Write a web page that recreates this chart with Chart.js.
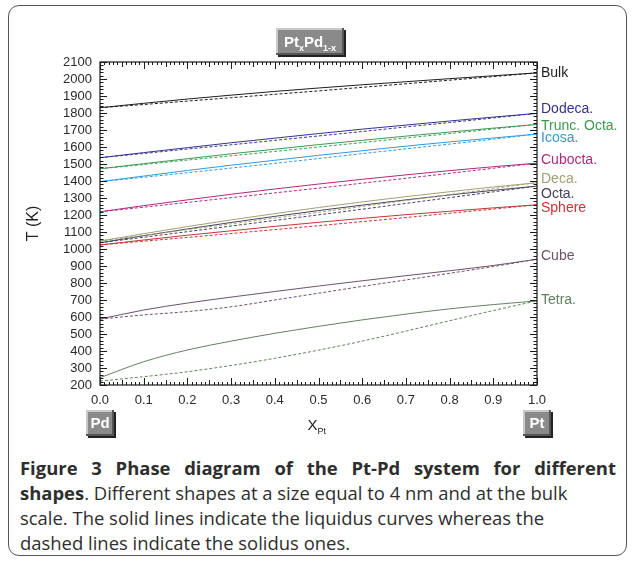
<!DOCTYPE html>
<html><head><meta charset="utf-8">
<script src="https://cdn.jsdelivr.net/npm/chart.js@4.4.1/dist/chart.umd.min.js"></script>
<style>
html,body{margin:0;padding:0;background:#fff;}
body{width:635px;height:564px;position:relative;overflow:hidden;font-family:"Liberation Sans",Arial,sans-serif;}
#frame{position:absolute;left:8px;top:5px;width:619px;height:551px;border:1.5px solid #555;border-radius:11px;box-sizing:border-box;}
#wrap{position:absolute;left:0;top:0;width:635px;height:450px;}
#cap{position:absolute;left:20px;top:455px;width:596px;font-family:"Open Sans",sans-serif;font-size:16px;line-height:25px;color:#2e2e2e;}
#cap div{white-space:nowrap;}
#cap b{font-weight:700;}
</style>
</head><body>
<div id="frame"></div>
<div id="wrap"><canvas id="c" width="635" height="450"></canvas></div>
<div id="cap">
<div id="l1d"><b id="l1b">Figure 3 Phase diagram of the Pt-Pd system for different</b></div>
<div><span id="l2"><b>shapes</b>. Different shapes at a size equal to 4 nm and at the bulk</span></div>
<div>scale. The solid lines indicate the liquidus curves whereas the</div>
<div>dashed lines indicate the solidus ones.</div>
</div>
<script>
// ---- data ----
const xValues = [0, 0.1, 0.2, 0.3, 0.4, 0.5, 0.6, 0.7, 0.8, 0.9, 1.0];

const bulkLiquidus    = [1831, 1857, 1882, 1905, 1927, 1947, 1966, 1984, 2002, 2019, 2036];
const bulkSolidus     = [1831, 1850, 1870, 1890, 1910, 1930, 1951, 1972, 1993, 2014, 2036];
const dodecaLiquidus  = [1537, 1567, 1596, 1625, 1652, 1679, 1705, 1729, 1753, 1776, 1798];
const dodecaSolidus   = [1537, 1562, 1588, 1613, 1639, 1665, 1691, 1718, 1744, 1771, 1798];
const truncLiquidus   = [1472, 1502, 1531, 1560, 1587, 1614, 1639, 1664, 1688, 1711, 1733];
const truncSolidus    = [1472, 1497, 1523, 1548, 1574, 1600, 1626, 1653, 1679, 1706, 1733];
const icosaLiquidus   = [1396, 1429, 1462, 1493, 1522, 1551, 1578, 1605, 1630, 1653, 1676];
const icosaSolidus    = [1396, 1422, 1449, 1476, 1504, 1532, 1561, 1589, 1617, 1646, 1676];
const cuboctaLiquidus = [1219, 1255, 1289, 1322, 1353, 1382, 1410, 1436, 1461, 1484, 1505];
const cuboctaSolidus  = [1219, 1246, 1274, 1302, 1330, 1358, 1387, 1416, 1445, 1475, 1505];
const decaLiquidus    = [1047, 1090, 1132, 1171, 1208, 1244, 1277, 1308, 1337, 1365, 1390];
const decaSolidus     = [1047, 1080, 1114, 1148, 1182, 1216, 1250, 1285, 1320, 1355, 1390];
const octaLiquidus    = [1037, 1078, 1118, 1156, 1192, 1226, 1258, 1289, 1318, 1345, 1370];
const octaSolidus     = [1037, 1069, 1102, 1135, 1168, 1201, 1234, 1268, 1302, 1336, 1370];
const sphereLiquidus  = [1024, 1053, 1081, 1107, 1133, 1157, 1180, 1202, 1222, 1242, 1260];
const sphereSolidus   = [1024, 1046, 1068, 1091, 1114, 1137, 1161, 1185, 1210, 1235, 1260];
const cubeLiquidus    = [588, 641, 682, 717, 750, 782, 813, 843, 872, 903, 940];
const cubeSolidus     = [588, 612, 632, 660, 700, 740, 780, 818, 857, 897, 940];
const tetraLiquidus   = [243, 337, 406, 458, 504, 545, 583, 617, 648, 673, 695];
const tetraSolidus    = [223, 249, 278, 315, 357, 405, 458, 517, 578, 638, 695];

const shapeNames  = ['Bulk', 'Dodeca.', 'Trunc. Octa.', 'Icosa.', 'Cubocta.', 'Deca.', 'Octa.', 'Sphere', 'Cube', 'Tetra.'];
const shapeColors = ['#1e1e1e', '#34348c', '#3c9a50', '#3598d8', '#b3287f', '#a3a072', '#43435f', '#c73434', '#6f5069', '#62805f'];
const labelAt     = [2036, 1822, 1725, 1651, 1524, 1412, 1322, 1243, 957, 700]; // K, where each name sits

const yMin = 200, yMax = 2100, yStep = 100;
const xMin = 0, xMax = 1, xStep = 0.1;

const liquidus = [bulkLiquidus, dodecaLiquidus, truncLiquidus, icosaLiquidus, cuboctaLiquidus, decaLiquidus, octaLiquidus, sphereLiquidus, cubeLiquidus, tetraLiquidus];
const solidus  = [bulkSolidus, dodecaSolidus, truncSolidus, icosaSolidus, cuboctaSolidus, decaSolidus, octaSolidus, sphereSolidus, cubeSolidus, tetraSolidus];

// ---- caption fit ----
(function fitCaption(){
  const cap = document.getElementById('cap');
  const l2 = document.getElementById('l2');
  const l1 = document.getElementById('l1b');
  const l1d = document.getElementById('l1d');
  let fs = 16;
  cap.style.fontSize = fs + 'px';
  const w2 = l2.getBoundingClientRect().width;
  const w1 = l1.getBoundingClientRect().width;
  fs = Math.min(fs * 548 / w2, fs * 592 / w1);
  cap.style.fontSize = fs.toFixed(2) + 'px';
  l1d.style.textAlign = 'justify';
  l1d.style.textAlignLast = 'justify';
})();

// ---- build datasets ----
const datasets = [];
shapeNames.forEach((n, i) => {
  datasets.push({label: n + ' liquidus', data: xValues.map((x, k) => ({x, y: liquidus[i][k]})),
    borderColor: shapeColors[i], borderWidth: 1, pointRadius: 0, cubicInterpolationMode: 'monotone', fill: false});
  datasets.push({label: n + ' solidus', data: xValues.map((x, k) => ({x, y: solidus[i][k]})),
    borderColor: shapeColors[i], borderWidth: 1, borderDash: [3, 2], pointRadius: 0, cubicInterpolationMode: 'monotone', fill: false});
});

function badge(ctx, cx, top, w, h, parts) {
  const x = Math.round(cx - w / 2), y = top;
  ctx.save();
  ctx.fillStyle = '#222';
  ctx.fillRect(x + 2, y + 2, w, h);
  ctx.fillStyle = '#8a8a8a';
  ctx.fillRect(x, y, w, h);
  ctx.fillStyle = '#c9c9c9';
  ctx.fillRect(x, y, w, 2);
  ctx.fillRect(x, y, 2, h);
  ctx.fillStyle = '#555';
  ctx.fillRect(x, y + h - 2, w, 2);
  ctx.fillRect(x + w - 2, y, 2, h);
  let total = 0;
  parts.forEach(p => { ctx.font = p.font; total += ctx.measureText(p.t).width; });
  let tx = cx - total / 2;
  ctx.fillStyle = '#fff';
  ctx.textBaseline = 'alphabetic';
  parts.forEach(p => { ctx.font = p.font; ctx.fillText(p.t, tx, y + h / 2 + 5 + (p.dy || 0)); tx += ctx.measureText(p.t).width; });
  ctx.restore();
}

const decor = {
  id: 'decor',
  afterDraw(chart) {
    const ctx = chart.ctx, a = chart.chartArea, xs = chart.scales.x, ys = chart.scales.y;
    ctx.save();
    ctx.strokeStyle = '#1a1a1a';
    ctx.lineWidth = 1.2;
    ctx.strokeRect(a.left, a.top, a.right - a.left, a.bottom - a.top);
    ctx.lineWidth = 1;
    ctx.beginPath();
    for (let v = yMin; v <= yMax + 0.001; v += 20) {
      const p = Math.round(ys.getPixelForValue(v)) + 0.5;
      const len = (v % yStep === 0) ? 7 : 3.5;
      ctx.moveTo(a.left, p); ctx.lineTo(a.left + len, p);
      ctx.moveTo(a.right, p); ctx.lineTo(a.right - len, p);
    }
    for (let k = 0; k <= 100; k++) {
      const v = k / 100;
      const p = Math.round(xs.getPixelForValue(v)) + 0.5;
      const len = (k % 10 === 0) ? 7 : (k % 5 === 0 ? 5 : 3);
      ctx.moveTo(p, a.bottom); ctx.lineTo(p, a.bottom - len);
      ctx.moveTo(p, a.top); ctx.lineTo(p, a.top + len);
    }
    ctx.stroke();
    ctx.font = '14px "Liberation Sans", Arial, sans-serif';
    ctx.textBaseline = 'middle';
    ctx.textAlign = 'left';
    shapeNames.forEach((n, i) => {
      ctx.fillStyle = shapeColors[i];
      ctx.fillText(n, a.right + 4, ys.getPixelForValue(labelAt[i]));
    });
    ctx.fillStyle = '#222';
    ctx.font = '15px "Liberation Sans", Arial, sans-serif';
    const xt = (a.left + a.right) / 2 - 5;
    ctx.textBaseline = 'alphabetic';
    ctx.fillText('X', xt - 6, 430);
    ctx.font = '9px "Liberation Sans", Arial, sans-serif';
    ctx.fillText('Pt', xt + 4, 434);
    ctx.save();
    ctx.translate(38, (a.top + a.bottom) / 2);
    ctx.rotate(-Math.PI / 2);
    ctx.font = '16px "Liberation Sans", Arial, sans-serif';
    ctx.textAlign = 'center';
    ctx.fillText('T (K)', 0, 0);
    ctx.restore();
    const big = 'bold 15px "Liberation Sans", Arial, sans-serif';
    const sm = 'bold 9px "Liberation Sans", Arial, sans-serif';
    badge(ctx, xs.getPixelForValue(0), 410, 28, 26, [{t: 'Pd', font: big}]);
    badge(ctx, xs.getPixelForValue(1), 410, 28, 26, [{t: 'Pt', font: big}]);
    badge(ctx, 310, 28, 68, 27, [{t: 'Pt', font: big}, {t: 'x', font: sm, dy: 4}, {t: 'Pd', font: big}, {t: '1-x', font: sm, dy: 4}]);
    ctx.restore();
  }
};

new Chart(document.getElementById('c'), {
  type: 'line',
  data: {datasets},
  options: {
    responsive: false, animation: false,
    layout: {padding: {top: 62, right: 98, left: 0, bottom: 0}},
    plugins: {legend: {display: false}, tooltip: {enabled: false}},
    scales: {
      x: {type: 'linear', min: xMin, max: xMax,
        afterFit: s => { s.height = 65; },
        grid: {display: false, drawTicks: false}, border: {display: false},
        ticks: {stepSize: xStep, padding: 8, color: '#2a2a2a', font: {family: '"Liberation Sans", Arial, sans-serif', size: 13},
          callback: v => Number(v).toFixed(1), maxRotation: 0, autoSkip: false}},
      y: {type: 'linear', min: yMin, max: yMax,
        afterFit: s => { s.width = 100; },
        grid: {display: false, drawTicks: false}, border: {display: false},
        ticks: {stepSize: yStep, padding: 8, color: '#2a2a2a', font: {family: '"Liberation Sans", Arial, sans-serif', size: 13},
          callback: v => String(Math.round(v)), autoSkip: false}}
    }
  },
  plugins: [decor]
});
</script>
</body></html>
